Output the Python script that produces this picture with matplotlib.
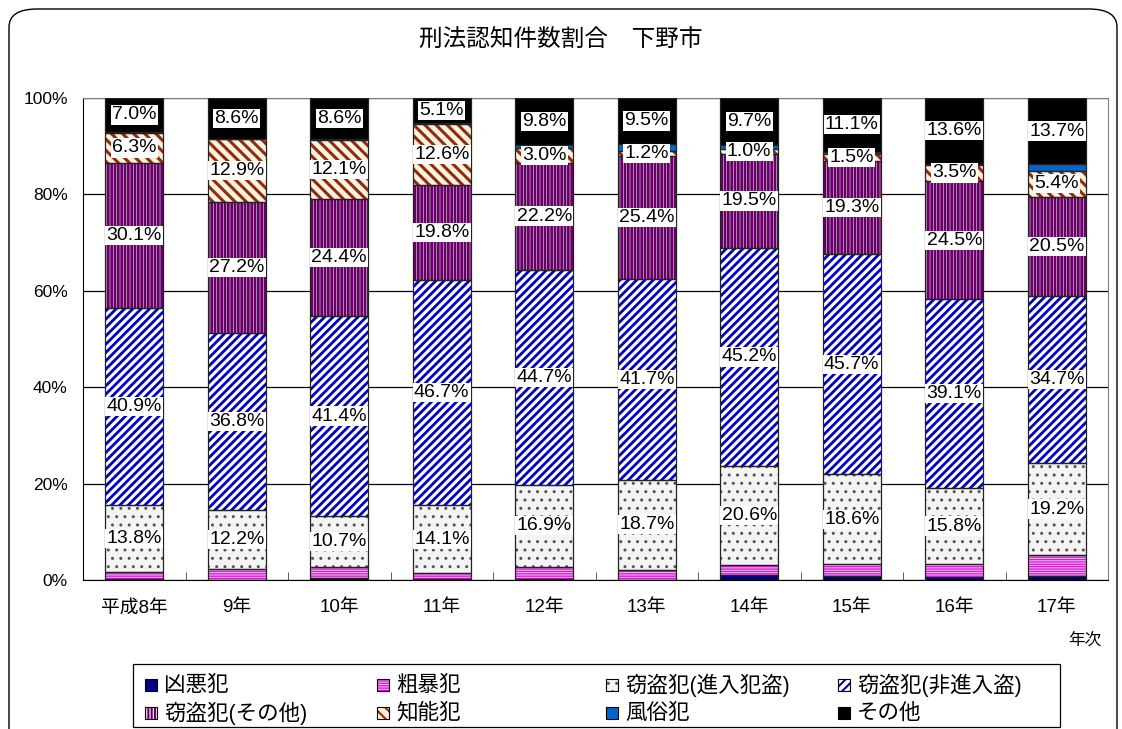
import numpy as np
import matplotlib
matplotlib.use('Agg')
import matplotlib.pyplot as plt
from matplotlib.patches import FancyBboxPatch, Rectangle

plt.rcParams['font.family'] = ['Liberation Sans', 'Noto Sans CJK JP', 'DejaVu Sans']

years = ['平成8年', '9年', '10年', '11年', '12年', '13年', '14年', '15年', '16年', '17年']

# 構成比(%)  下から積み上げ
kyoaku   = [0.2, 0.1, 0.5, 0.2, 0.2, 0.1, 1.0, 0.9, 0.6, 0.9]   # 凶悪犯
sobo     = [1.5, 2.2, 2.1, 1.2, 2.6, 2.0, 2.1, 2.4, 2.7, 4.2]   # 粗暴犯
shinnyu  = [13.8, 12.2, 10.7, 14.1, 16.9, 18.7, 20.6, 18.6, 15.8, 19.2]
hishin   = [40.9, 36.8, 41.4, 46.7, 44.7, 41.7, 45.2, 45.7, 39.1, 34.7]
settou_o = [30.1, 27.2, 24.4, 19.8, 22.2, 25.4, 19.5, 19.3, 24.5, 20.5]
chino    = [6.3, 12.9, 12.1, 12.6, 3.0, 1.2, 1.0, 1.5, 3.5, 5.4]
fuzoku   = [0.2, 0.0, 0.2, 0.3, 0.6, 1.4, 0.9, 0.5, 0.2, 1.4]   # 風俗犯
sonota   = [7.0, 8.6, 8.6, 5.1, 9.8, 9.5, 9.7, 11.1, 13.6, 13.7]

# (名前, 値, 面の色, ハッチ, ハッチ色, ハッチ線幅, ラベル表示)
series = [
    ('凶悪犯', kyoaku, '#000080', None, None, 1.0, False),
    ('粗暴犯', sobo, '#CC22CC', '-------', '#FFA8FF', 0.8, False),
    ('窃盗犯(進入犯盗)', shinnyu, '#F4F4F4', '..', '#555555', 1.0, True),
    ('窃盗犯(非進入盗)', hishin, '#FFFFFF', '////', '#0000C8', 2.0, True),
    ('窃盗犯(その他)', settou_o, '#F4E8F4', '|||||', '#660066', 2.0, True),
    ('知能犯', chino, '#FFF0E0', '\\\\\\', '#8B2E10', 2.2, True),
    ('風俗犯', fuzoku, '#0066CC', None, None, 1.0, False),
    ('その他', sonota, '#000000', None, None, 1.0, True),
]

W, H = 1122, 729
fig = plt.figure(figsize=(W / 100, H / 100), dpi=100)
ax = fig.add_axes([83 / W, 1 - 580 / H, 1025 / W, 482 / H])

# 外枠(角丸、下端は図の外)
frame = FancyBboxPatch((9 / W, -0.1), 1108 / W, 1.1 - 9 / H,
                       boxstyle='round,pad=0,rounding_size=0.025',
                       transform=fig.transFigure, facecolor='none',
                       edgecolor='black', linewidth=1.0, clip_on=False)
fig.patches.append(frame)

x = np.arange(len(years))
width = 0.57
bottom = np.zeros(len(years))
for name, vals, fc, hatch, hc, hlw, show in series:
    vals = np.array(vals)
    with plt.rc_context({'hatch.linewidth': hlw}):
        ax.bar(x, vals, width, bottom=bottom, color=fc, hatch=hatch,
               edgecolor=hc if hatch else fc, linewidth=0, zorder=2)
    ax.bar(x, vals, width, bottom=bottom, color='none',
           edgecolor='#222222', linewidth=0.9, zorder=3)
    if show:
        for xi, b, v in zip(x, bottom, vals):
            ax.text(xi, b + v / 2, f'{v:.1f}%', ha='center', va='center',
                    fontsize=14, zorder=5,
                    bbox=dict(facecolor='white', edgecolor='none', pad=0.8))
    bottom += vals

ax.set_xlim(-0.5, len(years) - 0.5)
ax.set_ylim(0, 100)
ax.set_yticks(np.arange(0, 101, 20))
ax.set_yticklabels([f'{v}%' for v in range(0, 101, 20)], fontsize=12.5)
ax.yaxis.grid(True, color='black', linewidth=0.9, zorder=0)
ax.set_axisbelow(True)
ax.tick_params(axis='y', length=0, pad=11)

ax.set_xticks(x)
ax.set_xticklabels(years, fontsize=13.5)
ax.set_xticks(np.arange(0.5, len(years) - 0.5, 1), minor=True)
ax.tick_params(axis='x', which='major', length=0, pad=14)
ax.tick_params(axis='x', which='minor', direction='in', length=6, color='#444444')

for s in ['top', 'right']:
    ax.spines[s].set_color('#808080')
ax.spines['left'].set_color('black')
ax.spines['bottom'].set_color('black')

fig.text(0.5, 1 - 40 / H, '刑法認知件数割合　下野市', ha='center', va='center',
         fontsize=17)
fig.text(1085 / W, 1 - 640 / H, '年次', ha='center', va='center', fontsize=12)

# 凡例(2行4列、列の開始位置は等間隔)
fig.patches.append(Rectangle((133 / W, 1 - 727 / H), 927 / W, 63 / H,
                             transform=fig.transFigure, facecolor='white',
                             edgecolor='black', linewidth=0.9))
col_x = [145, 377, 606, 838]
row_y = [685, 713]
for i, (name, vals, fc, hatch, hc, hlw, show) in enumerate(series):
    cx = col_x[i % 4]
    cy = row_y[i // 4]
    with plt.rc_context({'hatch.linewidth': min(hlw, 1.5)}):
        fig.patches.append(Rectangle((cx / W, 1 - (cy + 6) / H), 12 / W, 12 / H,
                                     transform=fig.transFigure, facecolor=fc,
                                     hatch=hatch, edgecolor=hc if hatch else fc,
                                     linewidth=0))
    fig.patches.append(Rectangle((cx / W, 1 - (cy + 6) / H), 12 / W, 12 / H,
                                 transform=fig.transFigure, facecolor='none',
                                 edgecolor='black', linewidth=0.8))
    fig.text((cx + 19) / W, 1 - cy / H, name, ha='left', va='center', fontsize=15.5)

fig.savefig('out.png', dpi=100)
